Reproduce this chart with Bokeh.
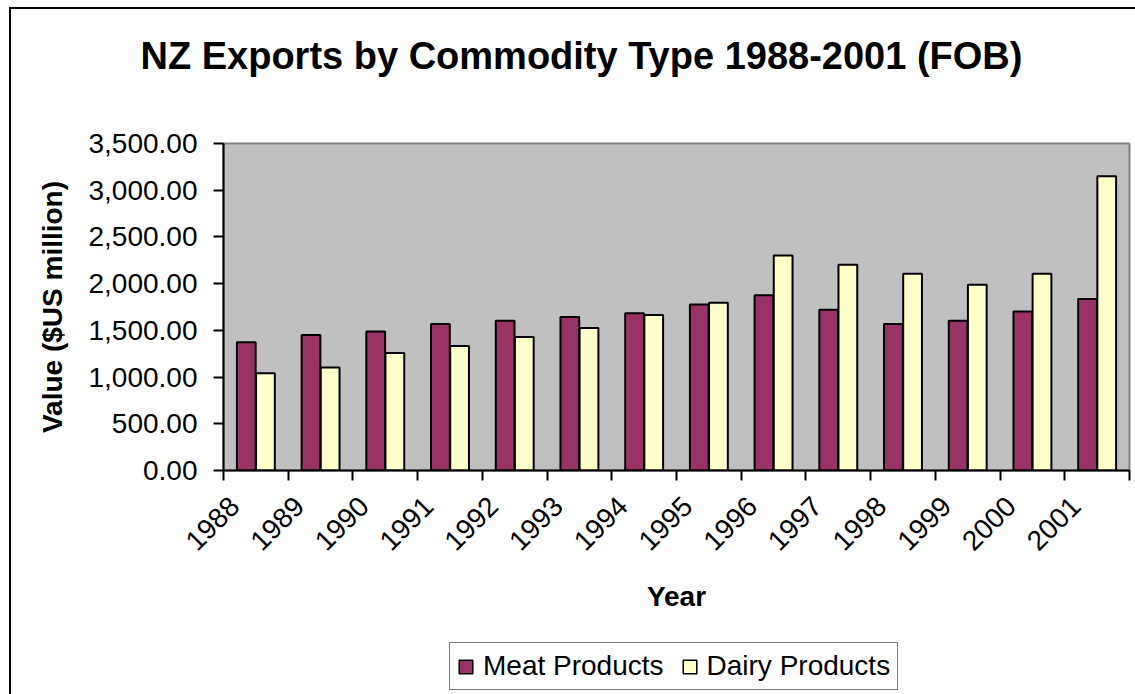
import math
from bokeh.plotting import figure
from bokeh.layouts import column
from bokeh.models import (ColumnDataSource, Range1d, LinearAxis, FixedTicker,
                          NumeralTickFormatter, Legend, LegendItem, Title)
from bokeh.transform import dodge
from bokeh.embed import file_html
from bokeh.resources import INLINE

# ---- data ----
years = ["1988", "1989", "1990", "1991", "1992", "1993", "1994",
         "1995", "1996", "1997", "1998", "1999", "2000", "2001"]
meat = [1374, 1450, 1489, 1568, 1603, 1643, 1682,
        1778, 1875, 1721, 1568, 1603, 1703, 1835]
dairy = [1042, 1103, 1257, 1332, 1428, 1525, 1664,
         1796, 2300, 2203, 2107, 1989, 2107, 3150]
y_ticks = [0, 500, 1000, 1500, 2000, 2500, 3000, 3500]
series_names = ["Meat Products", "Dairy Products"]
title_text = "NZ Exports by Commodity Type 1988-2001 (FOB)"
x_title = "Year"
y_title = "Value ($US million)"

FONT = "Liberation Sans"
MEAT_COLOR = "#993366"
DAIRY_COLOR = "#FFFFCC"
n = len(years)
centers = [i + 0.5 for i in range(n)]
boundaries = [float(i) for i in range(n + 1)]
label_pos = [c - 0.33 for c in centers]

W = 1124
p = figure(width=W, height=631, output_backend="svg", toolbar_location=None,
           x_range=Range1d(0, n), y_range=Range1d(0, y_ticks[-1]),
           x_axis_type=None, y_axis_type=None, title=None,
           min_border_left=212, min_border_right=6,
           min_border_top=134, min_border_bottom=170)
p.background_fill_color = "#C0C0C0"
p.border_fill_color = "white"
p.outline_line_color = "#808080"
p.outline_line_width = 2


def spacer(size):
    mid = n / 2
    return LinearAxis(ticker=FixedTicker(ticks=[mid], minor_ticks=[]),
                      major_label_overrides={mid: ""},
                      axis_line_color=None,
                      major_tick_line_color=None, minor_tick_line_color=None,
                      major_tick_out=size, major_tick_in=0,
                      minor_tick_out=0, minor_tick_in=0,
                      major_label_standoff=0, major_label_text_font_size="1px",
                      axis_label=None)


# y axis
yax = LinearAxis(ticker=FixedTicker(ticks=y_ticks),
                 formatter=NumeralTickFormatter(format="0,0.00"),
                 axis_label=y_title,
                 axis_label_text_font=FONT, axis_label_text_font_size="28px",
                 axis_label_text_font_style="bold", axis_label_standoff=18,
                 axis_label_text_color="black",
                 major_label_text_font=FONT, major_label_text_font_size="28px",
                 major_label_text_color="black", major_label_standoff=16,
                 axis_line_color="black", axis_line_width=2,
                 major_tick_line_color="black", major_tick_line_width=2,
                 major_tick_out=10, major_tick_in=0,
                 minor_tick_line_color=None)
p.add_layout(yax, "left")

# x axis
xax = LinearAxis(ticker=FixedTicker(ticks=label_pos, minor_ticks=boundaries),
                 major_label_overrides={lp: y for lp, y in zip(label_pos, years)},
                 major_label_orientation=math.pi / 4,
                 axis_label=x_title,
                 axis_label_text_font=FONT, axis_label_text_font_size="28px",
                 axis_label_text_font_style="bold", axis_label_standoff=19,
                 axis_label_text_color="black",
                 major_label_text_font=FONT, major_label_text_font_size="28px",
                 major_label_text_color="black", major_label_standoff=21,
                 axis_line_color="black", axis_line_width=2,
                 major_tick_line_color=None, major_tick_out=10, major_tick_in=0,
                 minor_tick_line_color="black", minor_tick_line_width=2,
                 minor_tick_out=10, minor_tick_in=0)
p.add_layout(xax, "below")

# title
p.add_layout(spacer(62), "above")
p.add_layout(Title(text=title_text, text_font=FONT, text_font_size="38px",
                   text_font_style="bold", text_color="black",
                   align="left", offset=-83, standoff=10), "above")

src = ColumnDataSource(dict(pos=centers, meat=meat, dairy=dairy))
bar_kw = dict(width=0.29, line_color="black", line_width=2)
r1 = p.vbar(x=dodge("pos", -0.148), top="meat", fill_color=MEAT_COLOR,
            source=src, **bar_kw)
r2 = p.vbar(x=dodge("pos", 0.148), top="dairy", fill_color=DAIRY_COLOR,
            source=src, **bar_kw)

# legend strip (separate canvas so it is not clipped by the plot frame)
p2 = figure(width=W, height=54, output_backend="svg", toolbar_location=None,
            x_range=Range1d(0, n), y_range=Range1d(0, y_ticks[-1]),
            x_axis_type=None, y_axis_type=None, title=None,
            min_border_left=0, min_border_right=0,
            min_border_top=0, min_border_bottom=0)
p2.background_fill_color = "white"
p2.border_fill_color = "white"
p2.outline_line_color = None
legend_kw = dict(width=0.29, line_color="black", line_width=1.5, source=src)
q1 = p2.vbar(x=dodge("pos", -0.148), top="meat", fill_color=MEAT_COLOR, **legend_kw)
q2 = p2.vbar(x=dodge("pos", 0.148), top="dairy", fill_color=DAIRY_COLOR, **legend_kw)
q1.visible = False
q2.visible = False

legend = Legend(items=[LegendItem(label=series_names[0], renderers=[q1]),
                       LegendItem(label=series_names[1], renderers=[q2])],
                orientation="horizontal", location=(226, 4), margin=0,
                padding=7, spacing=17, label_standoff=9,
                glyph_width=17, glyph_height=17,
                label_text_font=FONT, label_text_font_size="28px",
                label_text_color="black",
                inactive_fill_alpha=0,
                border_line_color="black", border_line_width=1.5,
                background_fill_color="white", background_fill_alpha=1)
p2.add_layout(legend, "center")

lay = column(p, p2, spacing=0)
lay.styles = {"margin-left": "9px", "margin-top": "7px",
              "border-left": "2px solid black", "border-top": "2px solid black"}

open("out.html", "w").write(file_html(lay, INLINE))
